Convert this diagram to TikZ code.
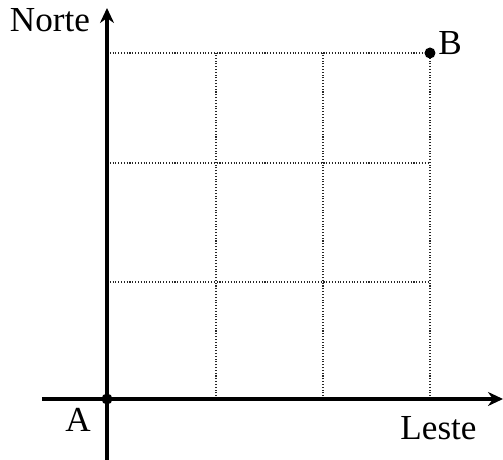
\documentclass[tikz,border=0pt]{standalone}
\usepackage{fontspec}
\setmainfont{Liberation Serif}
\usetikzlibrary{arrows.meta,positioning}

\begin{document}
\begin{tikzpicture}[
    gridline/.style={densely dotted, line width=0.6pt, black!85},
    axisline/.style={line width=2pt, -{Stealth[length=3mm, width=2.8mm]}},
    pointdot/.style={circle, fill, inner sep=0pt, minimum size=2.2mm},
    lbl/.style={anchor=base, font=\fontsize{20}{24}\selectfont}]
  \useasboundingbox (0,0) rectangle (10.06,9.2);

  % grid
  \foreach \x in {4.32,6.46,8.60}
    \draw[gridline] (\x,1.22) -- (\x,8.14);
  \foreach \y in {1.22,3.56,5.94,8.14}
    \draw[gridline] (2.14,\y) -- (8.60,\y);

  % axes
  \coordinate (xstart) at (0.84,1.22);
  \coordinate (xend)   at (10.06,1.22);
  \coordinate (ystart) at (2.14,0);
  \coordinate (yend)   at (2.14,9.04);
  \draw[axisline] (xstart) -- (xend);
  \draw[axisline] (ystart) -- (yend);

  \node[pointdot] (A) at (2.14,1.22) {};
  \node[pointdot] (B) at (8.60,8.14) {};

  \node[lbl] (labelA) at (1.56,0.56) {A};
  \node[lbl] (labelB) at (9.00,8.10) {B};
  \node[lbl] (norte)  at (1.00,8.56) {Norte};
  \node[lbl] (leste)  at (8.77,0.40) {Leste};
\end{tikzpicture}
\end{document}
